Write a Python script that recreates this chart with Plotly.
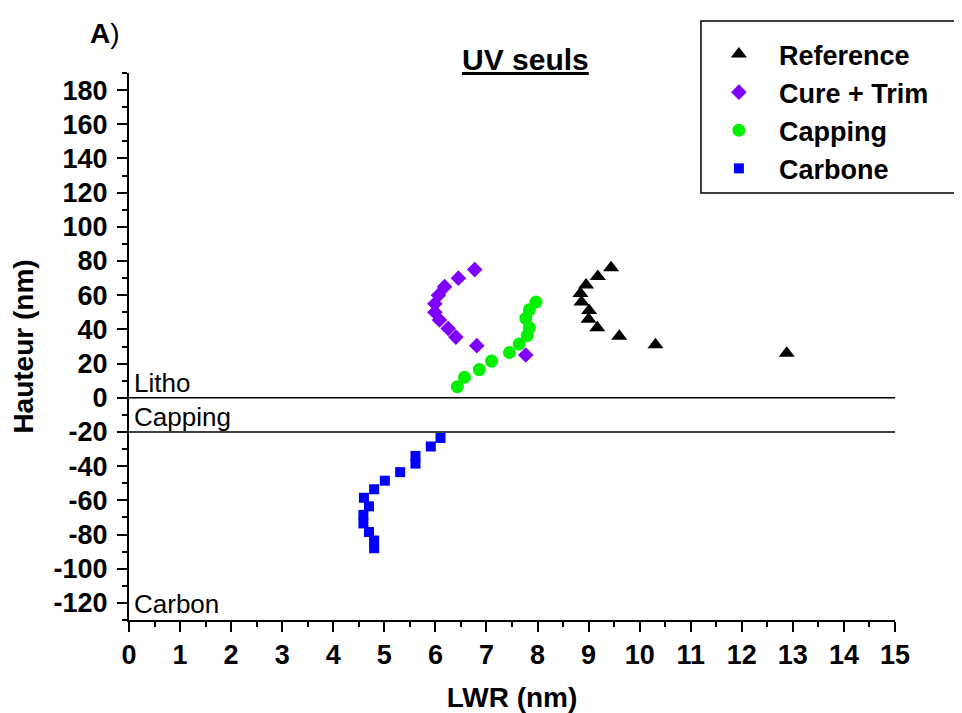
import plotly.graph_objects as go

# LWR (nm) vs height (nm)
ref_lwr = [9.44, 9.18, 8.95, 8.84, 8.86, 9.01, 9.00, 9.17, 9.60, 10.31, 12.88]
ref_h = [76, 71, 66, 61, 56, 51, 46, 41, 36, 31, 26]

cure_lwr = [6.77, 6.45, 6.18, 6.06, 5.99, 5.99, 6.08, 6.25, 6.40, 6.81, 7.77]
cure_h = [75, 70, 65, 60, 55, 50, 45.5, 40.5, 35.5, 30.5, 25]

cap_lwr = [7.97, 7.84, 7.77, 7.84, 7.80, 7.64, 7.45, 7.10, 6.86, 6.57, 6.43]
cap_h = [56, 51.5, 46.5, 41, 36.5, 31.5, 26.5, 21.5, 16.5, 12, 6.5]

carb_lwr = [6.10, 5.91, 5.61, 5.61, 5.31, 5.01, 4.80, 4.60, 4.70, 4.59, 4.59, 4.70, 4.80, 4.80]
carb_h = [-23.5, -28.5, -34, -38.5, -43.5, -48.5, -53.5, -58.5, -63.5, -68.5, -73.5, -78.5, -83.5, -88]

zones = ['Litho', 'Capping', 'Carbon']
zone_y = [8.8, -11, -120.5]
limits = [0, -20]

y_ticks = list(range(-120, 181, 20))
y_labels = [str(v) for v in y_ticks]  # plain hyphen, not the unicode minus

FONT = 'Arial, Liberation Sans, sans-serif'

fig = go.Figure()
series = [
    ('Reference', ref_lwr, ref_h, 'triangle-up', 'black', 14),
    ('Cure + Trim', cure_lwr, cure_h, 'diamond', '#8000ff', 12),
    ('Capping', cap_lwr, cap_h, 'circle', '#00f000', 13),
    ('Carbone', carb_lwr, carb_h, 'square', '#0000ff', 10),
]
for name, x, y, sym, col, sz in series:
    fig.add_trace(go.Scatter(
        x=x, y=y, mode='markers', name=name,
        marker=dict(symbol=sym, color=col, size=sz, line=dict(width=0)),
    ))

for lim in limits:
    fig.add_shape(type='line', x0=0, x1=15, y0=lim, y1=lim, xref='x', yref='y',
                  line=dict(color='black', width=1.5))

for txt, yy in zip(zones, zone_y):
    fig.add_annotation(x=0.05, y=yy, xref='x', yref='y', text=txt, showarrow=False,
                       xanchor='left', yanchor='middle',
                       font=dict(family=FONT, size=26, color='black'))

fig.add_annotation(x=0.517, y=1.024, xref='paper', yref='paper', text='<b><u>UV seuls</u></b>',
                   showarrow=False, xanchor='center', yanchor='middle',
                   font=dict(family=FONT, size=30, color='black'))
fig.add_annotation(x=-0.031, y=1.073, xref='paper', yref='paper', text='<b>A</b>)',
                   showarrow=False, xanchor='center', yanchor='middle',
                   font=dict(family=FONT, size=28, color='black'))

# legend frame, open on the right: it runs off the edge like in the original
fig.add_shape(type='path', xref='paper', yref='paper',
              path='M 1.3,1.095 L 0.7467,1.095 L 0.7467,0.7806 L 1.3,0.7806',
              line=dict(color='black', width=1.5))

axis_common = dict(
    showline=True, linecolor='black', linewidth=2, showgrid=False, zeroline=False,
    ticks='outside', ticklen=10, tickwidth=2, tickcolor='black', automargin=False,
    tickfont=dict(family=FONT, size=27, color='black', weight='bold'),
)
fig.update_xaxes(range=[0, 15], dtick=1, tick0=0,
                 minor=dict(dtick=0.5, ticks='outside', ticklen=5, tickwidth=2, tickcolor='black'),
                 title=dict(text='LWR (nm)', standoff=20,
                            font=dict(family=FONT, size=28, color='black', weight='bold')),
                 **axis_common)
fig.update_yaxes(range=[-130, 190], tickmode='array', tickvals=y_ticks, ticktext=y_labels,
                 minor=dict(tickmode='linear', tick0=0, dtick=10, ticks='outside', ticklen=5,
                            tickwidth=2, tickcolor='black'),
                 ticklabelstandoff=4,
                 title=dict(text='Hauteur (nm)', standoff=18,
                            font=dict(family=FONT, size=28, color='black', weight='bold')),
                 **axis_common)

# the page adds an 8px body margin; size the figure so it fits without scrollbars
fig.update_layout(
    width=954, height=705,
    margin=dict(l=121, r=67, t=65, b=93),
    paper_bgcolor='white', plot_bgcolor='white',
    font=dict(family=FONT, color='black'),
    legend=dict(x=0.744, y=1.0786, xanchor='left', yanchor='top',
                borderwidth=0, bgcolor='rgba(0,0,0,0)',
                font=dict(family=FONT, size=27, color='black', weight='bold'),
                itemwidth=70, itemsizing='trace'),
)

fig.write_html('out.html')
